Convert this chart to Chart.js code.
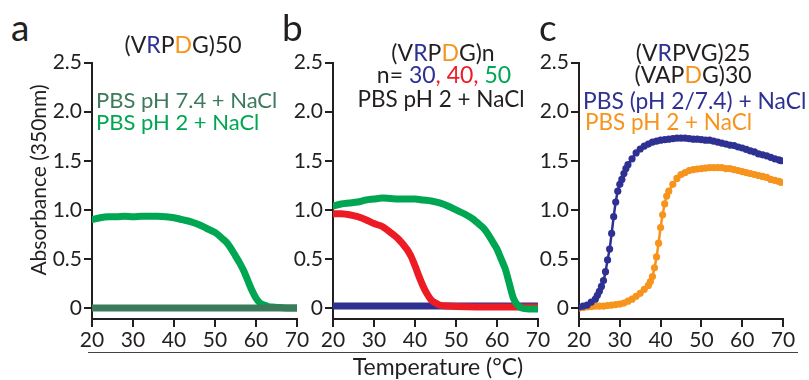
<!DOCTYPE html>
<html>
<head>
<meta charset="utf-8">
<script src="https://cdn.jsdelivr.net/npm/chart.js@4.4.1/dist/chart.umd.min.js"></script>
<style>
body { margin: 0; background: #fff; width: 809px; height: 380px; overflow: hidden; position: relative; font-family: Lato, sans-serif; color: #231f20; }
canvas { position: absolute; }
.t { position: absolute; white-space: nowrap; line-height: 1; z-index: 2; }
.c { text-align: center; width: 240px; }
</style>
</head>
<body>
<canvas id="chartA" style="left:40px;top:48px" width="273" height="299"></canvas>
<canvas id="chartB" style="left:281px;top:48px" width="273" height="299"></canvas>
<canvas id="chartC" style="left:527px;top:48px" width="272" height="299"></canvas>

<!-- panel letters -->
<div class="t" style="left:11px;top:8px;font-size:37px">a</div>
<div class="t" style="left:282px;top:8px;font-size:37px">b</div>
<div class="t" style="left:539px;top:8px;font-size:37px">c</div>

<!-- panel a -->
<div class="t c" style="left:63px;top:33px;font-size:23px">(V<span style="color:#2e3192">R</span>P<span style="color:#f7941d">D</span>G)50</div>
<div class="t" style="left:96px;top:89px;font-size:22px;color:#3d7a5c">PBS pH 7.4 + NaCl</div>
<div class="t" style="left:96px;top:111px;font-size:22px;color:#00a651">PBS pH 2 + NaCl</div>

<!-- panel b -->
<div class="t c" style="left:323px;top:41px;font-size:23px">(V<span style="color:#2e3192">R</span>P<span style="color:#f7941d">D</span>G)n</div>
<div class="t c" style="left:324px;top:63px;font-size:23px">n= <span style="color:#2e3192">30</span><span style="color:#ed1c24">, 40, </span><span style="color:#00a651">50</span></div>
<div class="t c" style="left:321px;top:88px;font-size:22.5px">PBS pH 2 + NaCl</div>

<!-- panel c -->
<div class="t c" style="left:573px;top:41px;font-size:23px">(V<span style="color:#2e3192">R</span>PVG)25</div>
<div class="t c" style="left:573px;top:63px;font-size:23px">(VAP<span style="color:#f7941d">D</span>G)30</div>
<div class="t" style="left:583px;top:89px;font-size:22.8px;color:#2e3192">PBS (pH 2/7.4) + NaCl</div>
<div class="t" style="left:585px;top:111px;font-size:22.5px;color:#f7941d">PBS pH 2 + NaCl</div>

<!-- shared axis titles -->
<div class="t" style="left:-82px;top:168px;width:240px;height:24px;line-height:24px;text-align:center;font-size:21px;transform:rotate(-90deg)">Absorbance (350nm)</div>
<div style="position:absolute;left:88px;top:352px;width:710px;height:0;border-top:1.5px solid #444"></div>
<div class="t" style="left:318px;top:355px;width:240px;text-align:center;font-size:23px">Temperature (°C)</div>

<script>
// ---- data ----
const yTicks = [0, 0.5, 1.0, 1.5, 2.0, 2.5];
const xTicks = [20, 30, 40, 50, 60, 70];

// panel a: (VRPDG)50
const aTempPH74 = [20, 30, 40, 50, 60, 70];
const aPH74 = [0, 0, 0, 0, 0, 0];
const aTempPH2 = [20, 21, 22, 24, 26, 28, 30, 32, 34, 36, 38, 40, 42, 44, 46, 48, 50, 52, 53, 54, 55, 56, 57, 58, 59, 60, 61, 62, 63, 64, 66, 68, 70];
const aPH2 = [0.90, 0.91, 0.92, 0.93, 0.93, 0.935, 0.93, 0.935, 0.935, 0.935, 0.93, 0.92, 0.90, 0.88, 0.85, 0.81, 0.77, 0.70, 0.66, 0.60, 0.53, 0.46, 0.38, 0.28, 0.18, 0.10, 0.05, 0.03, 0.015, 0.01, 0.005, 0, 0];

// panel b: (VRPDG)n, n = 30, 40, 50
const bTemp30 = [20, 30, 40, 50, 60, 70];
const bN30 = [0.02, 0.02, 0.02, 0.02, 0.02, 0.02];
const bTemp40 = [20, 22, 24, 26, 28, 30, 32, 34, 36, 38, 39, 40, 41, 42, 43, 44, 45, 46, 48, 50, 55, 60, 65, 70];
const bN40 = [0.96, 0.96, 0.95, 0.93, 0.90, 0.86, 0.83, 0.77, 0.70, 0.60, 0.53, 0.43, 0.32, 0.22, 0.14, 0.08, 0.05, 0.03, 0.02, 0.015, 0.01, 0.01, 0.01, 0.01];
const bTemp50 = [20, 22, 24, 26, 28, 30, 32, 34, 36, 38, 40, 42, 44, 46, 48, 50, 52, 54, 56, 57, 58, 59, 60, 61, 62, 63, 64, 65, 66, 68, 70];
const bN50 = [1.04, 1.06, 1.07, 1.08, 1.10, 1.11, 1.12, 1.115, 1.11, 1.11, 1.11, 1.10, 1.09, 1.07, 1.04, 1.00, 0.96, 0.91, 0.84, 0.80, 0.74, 0.67, 0.60, 0.50, 0.40, 0.25, 0.10, 0.03, 0.0, -0.01, -0.01];

// panel c: (VRPVG)25 + (VAPDG)30
const cTempMix = [20, 21, 22, 23, 24, 24.5, 25, 25.5, 26, 26.5, 27, 27.5, 28, 28.5, 29, 29.5, 30, 30.5, 31, 31.5, 32, 33, 34, 35, 36, 37, 38, 39, 40, 41, 42, 43, 44, 45, 46, 47, 48, 49, 50, 51, 52, 53, 54, 55, 56, 57, 58, 59, 60, 61, 62, 63, 64, 65, 66, 67, 68, 69, 69.5];
const cMix = [0.01, 0.02, 0.03, 0.06, 0.09, 0.13, 0.17, 0.22, 0.28, 0.37, 0.49, 0.60, 0.76, 0.93, 1.08, 1.19, 1.26, 1.31, 1.37, 1.42, 1.46, 1.52, 1.58, 1.62, 1.65, 1.67, 1.69, 1.70, 1.71, 1.715, 1.72, 1.725, 1.73, 1.73, 1.73, 1.725, 1.72, 1.72, 1.715, 1.71, 1.71, 1.70, 1.69, 1.68, 1.67, 1.66, 1.655, 1.64, 1.63, 1.615, 1.60, 1.59, 1.57, 1.56, 1.55, 1.535, 1.52, 1.51, 1.50];
const cTempPH2 = [20, 21, 22, 23, 24, 25, 26, 27, 28, 29, 30, 31, 32, 33, 34, 35, 36, 37, 37.5, 38, 38.5, 39, 39.5, 40, 40.5, 41, 41.5, 42, 43, 44, 45, 46, 47, 48, 49, 50, 51, 52, 53, 54, 55, 56, 57, 58, 59, 60, 61, 62, 63, 64, 65, 66, 67, 68, 69, 69.5];
const cPH2 = [0.00, 0.005, 0.01, 0.015, 0.02, 0.02, 0.02, 0.025, 0.03, 0.035, 0.04, 0.05, 0.07, 0.09, 0.12, 0.15, 0.19, 0.23, 0.27, 0.32, 0.41, 0.52, 0.66, 0.82, 0.95, 1.06, 1.14, 1.19, 1.26, 1.32, 1.36, 1.38, 1.40, 1.41, 1.415, 1.42, 1.425, 1.43, 1.43, 1.43, 1.43, 1.42, 1.42, 1.41, 1.40, 1.39, 1.38, 1.37, 1.36, 1.35, 1.34, 1.33, 1.31, 1.30, 1.29, 1.28];

const INK = '#231f20';

// thick smooth trace (panels a, b)
function thickLine(temps, vals, color) {
    return {
        data: temps.map((t, i) => ({ x: t, y: vals[i] })),
        borderColor: color,
        backgroundColor: color,
        borderWidth: 7,
        borderCapStyle: 'round',
        borderJoinStyle: 'round',
        pointRadius: 0,
        tension: 0.3
    };
}

// dotted trace (panel c)
function dotLine(temps, vals, color) {
    return {
        data: temps.map((t, i) => ({ x: t, y: vals[i] })),
        borderColor: color,
        backgroundColor: color,
        borderWidth: 2.5,
        pointRadius: 3.6,
        pointBorderWidth: 0,
        tension: 0.3
    };
}

function makePanel(id, datasets) {
    return new Chart(document.getElementById(id), {
        type: 'line',
        data: { datasets: datasets },
        options: {
            responsive: false,
            animation: false,
            layout: { padding: { top: 14, right: 16, left: 0, bottom: 0 } },
            plugins: { legend: { display: false }, tooltip: { enabled: false } },
            scales: {
                x: {
                    type: 'linear',
                    min: 20,
                    max: 70,
                    afterBuildTicks: s => { s.ticks = xTicks.map(v => ({ value: v })); },
                    afterFit: s => { s.height = 28; },
                    ticks: { color: INK, font: { family: 'Lato', size: 21 }, padding: 1, maxRotation: 0 },
                    grid: { drawOnChartArea: false, drawTicks: true, tickLength: 8, color: INK, lineWidth: 2 },
                    border: { display: true, color: INK, width: 2 }
                },
                y: {
                    min: -0.112,
                    max: 2.5,
                    afterBuildTicks: s => { s.ticks = yTicks.map(v => ({ value: v })); },
                    afterFit: s => { s.width = 52; },
                    ticks: {
                        color: INK,
                        font: { family: 'Lato', size: 21 },
                        padding: 2,
                        callback: v => v === 0 ? '0' : v.toFixed(1)
                    },
                    grid: { drawOnChartArea: false, drawTicks: true, tickLength: 8, color: INK, lineWidth: 2 },
                    border: { display: true, color: INK, width: 2 }
                }
            }
        }
    });
}

// first dataset is drawn on top
makePanel('chartA', [
    thickLine(aTempPH74, aPH74, '#3d7a5c'),
    thickLine(aTempPH2, aPH2, '#00a651')
]);
makePanel('chartB', [
    thickLine(bTemp50, bN50, '#00a651'),
    thickLine(bTemp40, bN40, '#ed1c24'),
    thickLine(bTemp30, bN30, '#2e3192')
]);
makePanel('chartC', [
    dotLine(cTempMix, cMix, '#2e3192'),
    dotLine(cTempPH2, cPH2, '#f7941d')
]);
</script>
</body>
</html>
